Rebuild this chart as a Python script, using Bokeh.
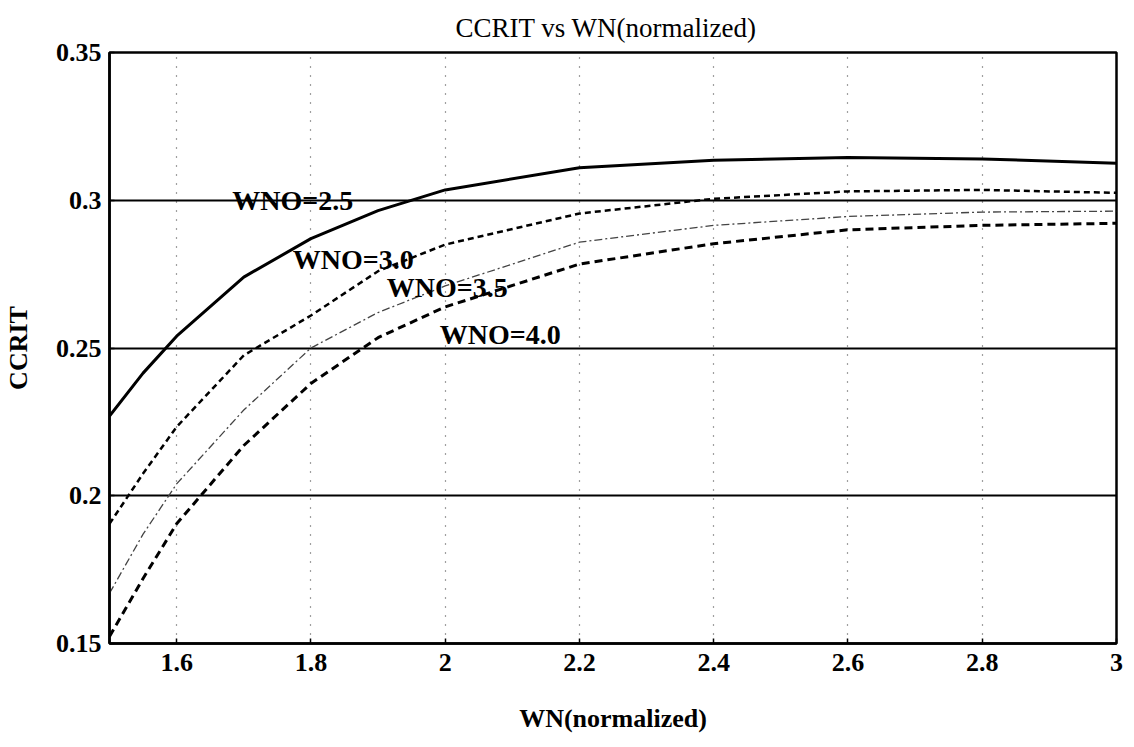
from bokeh.plotting import figure
from bokeh.models import FixedTicker, CustomJSTickFormatter, Range1d, Label
from bokeh.embed import file_html
from bokeh.resources import INLINE

wn = [1.5, 1.55, 1.6, 1.7, 1.8, 1.9, 2.0, 2.2, 2.4, 2.6, 2.8, 3.0]
ccrit_25 = [0.227, 0.2415, 0.254, 0.274, 0.287, 0.2965, 0.3035, 0.311, 0.3135, 0.3145, 0.314, 0.3125]
ccrit_30 = [0.1905, 0.2075, 0.2233, 0.2475, 0.261, 0.276, 0.285, 0.2955, 0.3005, 0.303, 0.3035, 0.3025]
ccrit_35 = [0.167, 0.187, 0.204, 0.229, 0.250, 0.262, 0.271, 0.2858, 0.2915, 0.2945, 0.296, 0.2963]
ccrit_40 = [0.1524, 0.172, 0.1905, 0.217, 0.238, 0.2535, 0.2639, 0.2784, 0.2853, 0.290, 0.2915, 0.2922]

x_ticks = [1.6, 1.8, 2.0, 2.2, 2.4, 2.6, 2.8, 3.0]
y_ticks = [0.15, 0.2, 0.25, 0.3, 0.35]

labels = ["WNO=2.5", "WNO=3.0", "WNO=3.5", "WNO=4.0"]
label_x = [1.773, 1.863, 2.003, 2.082]
label_y = [0.300, 0.280, 0.2706, 0.2544]

SERIF = "Liberation Serif"

p = figure(width=1124, height=739, output_backend="svg", toolbar_location=None,
           x_range=Range1d(1.5, 3.0), y_range=Range1d(0.15, 0.35),
           min_border_left=106, min_border_right=8, min_border_top=45, min_border_bottom=96,
           title="CCRIT  vs  WN(normalized)")

p.title.align = "center"
p.title.text_font = SERIF
p.title.text_font_size = "27px"
p.title.text_font_style = "normal"
p.title.text_color = "black"
p.title.standoff = 20

p.xaxis.axis_label = "WN(normalized)"
p.yaxis.axis_label = "CCRIT"
for ax in (p.xaxis, p.yaxis):
    ax.axis_label_text_font = SERIF
    ax.axis_label_text_font_size = "26px"
    ax.axis_label_text_font_style = "bold"
    ax.axis_label_text_color = "black"
    ax.major_label_text_font = SERIF
    ax.major_label_text_font_size = "26px"
    ax.major_label_text_font_style = "bold"
    ax.major_label_text_color = "black"
    ax.axis_line_width = 2.5
    ax.axis_line_color = "black"
    ax.major_tick_in = 5
    ax.major_tick_out = 0
    ax.major_tick_line_width = 1.5
    ax.minor_tick_line_color = None
    ax.formatter = CustomJSTickFormatter(code="return tick.toString();")

p.xaxis.ticker = FixedTicker(ticks=x_ticks)
p.yaxis.ticker = FixedTicker(ticks=y_ticks)
p.xaxis.major_label_standoff = 10
p.xaxis.axis_label_standoff = 30
p.yaxis.major_label_standoff = 8
p.yaxis.axis_label_standoff = 20

p.outline_line_color = "black"
p.outline_line_width = 2.5
p.outline_line_alpha = 1.0

p.xgrid.grid_line_color = "black"
p.xgrid.grid_line_dash = "1 8"
p.xgrid.grid_line_width = 1.2
p.xgrid.grid_line_alpha = 0.75
p.ygrid.grid_line_color = "black"
p.ygrid.grid_line_width = 2
p.ygrid.grid_line_alpha = 1.0

p.line(wn, ccrit_25, line_color="black", line_width=3)
p.line(wn, ccrit_30, line_color="black", line_width=2.5, line_dash="6 4")
p.line(wn, ccrit_35, line_color="#444444", line_width=1.3, line_dash="8 3 2 3")
p.line(wn, ccrit_40, line_color="black", line_width=3, line_dash="8 5")

for t, lx, ly in zip(labels, label_x, label_y):
    p.add_layout(Label(x=lx, y=ly, text=t, text_align="center", text_baseline="middle",
                       text_font=SERIF, text_font_size="28px", text_font_style="bold",
                       text_color="black"))

p.background_fill_color = "white"
p.border_fill_color = "white"

open("out.html", "w").write(file_html(p, INLINE))
